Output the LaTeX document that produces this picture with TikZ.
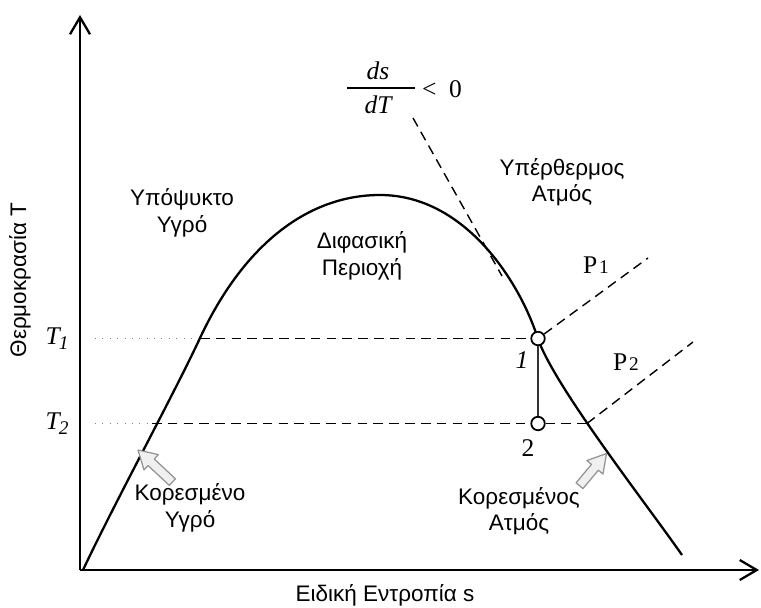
\documentclass[tikz,border=0pt]{standalone}
\usepackage{fontspec}
\setmainfont{Liberation Sans}
\newfontfamily\tms{Liberation Serif}
\usetikzlibrary{arrows.meta}

\tikzset{
  statept/.style={circle,draw,line width=1pt,fill=white,minimum size=0.27cm,inner sep=0pt},
  hollow/.style={draw=gray!85,fill=gray!12,line width=0.7pt,line join=round},
  isobar/.style={line width=0.8pt,dash pattern=on 5.5pt off 3.5pt},
  guide/.style={gray,line width=0.7pt,dash pattern=on 0.6pt off 3.6pt},
  axisline/.style={line width=1.3pt,-{Straight Barb[length=3.4mm,width=4mm]}},
  serifbig/.style={font=\fontsize{14.5}{17}\selectfont\tms},
}

\begin{document}
\begin{tikzpicture}[scale=1.0,font=\fontsize{12.8}{15}\selectfont]
\useasboundingbox (0,0) rectangle (15.22,12.14);

\coordinate (O) at (1.6,0.74);
\coordinate (xend) at (15.18,0.74);
\coordinate (yend) at (1.6,11.84);
\draw[axisline] (O) -- (yend);
\draw[axisline] (O) -- (xend);
\node (xlab) at (7.70,0.24) {Ειδική Εντροπία s};
\node[rotate=90] (ylab) at (0.40,6.54) {Θερμοκρασία T};

\draw[line width=1.3pt] (1.66,0.74) .. controls (2.3,2.1) and (3.5,4.3) .. (4.0,5.38)
  .. controls (4.9,7.3) and (6.2,8.24) .. (7.6,8.24)
  .. controls (9.3,8.24) and (10.4,6.5) .. (10.76,5.36)
  .. controls (11.1,4.4) and (12.9,2.1) .. (13.64,1.04);

\node[statept] (p1) at (10.76,5.37) {};
\node[statept] (p2) at (10.76,3.67) {};
\draw[line width=1pt,black!80] (p1) -- (p2);
\node[serifbig] (n1) at (10.44,4.94) {\itshape 1};
\node[serifbig] (n2) at (10.56,3.18) {2};

\node[serifbig] (T1) at (1.14,5.37) {\itshape T\kern-0.5pt\raisebox{-0.45ex}{\fontsize{11}{12}\selectfont 1}};
\node[serifbig] (T2) at (1.14,3.67) {\itshape T\kern-0.5pt\raisebox{-0.45ex}{\fontsize{11}{12}\selectfont 2}};
\coordinate (g1) at (1.9,5.37);
\coordinate (g2) at (1.9,3.67);
\coordinate (l1) at (4.00,5.37);
\coordinate (l2) at (3.04,3.67);
\coordinate (v2) at (11.74,3.67);
\draw[guide] (g1) -- (l1);
\draw[guide] (g2) -- (l2);
\draw[isobar] (l1) -- (p1);
\draw[isobar] (l2) -- (p2);
\draw[isobar] (p2) -- (v2);

\coordinate (e1) at (12.96,6.98);
\coordinate (e2) at (13.86,5.30);
\draw[isobar] (p1) -- (e1);
\draw[isobar] (v2) -- (e2);
\node[serifbig] (P1) at (11.92,6.84) {P\kern1pt{\fontsize{11}{12}\selectfont 1}};
\node[serifbig] (P2) at (12.52,4.90) {P\kern1pt{\fontsize{11}{12}\selectfont 2}};

\node[serifbig] (ds) at (7.56,10.72) {\itshape ds};
\node[serifbig] (dT) at (7.56,10.04) {\itshape dT};
\draw[line width=0.8pt] (6.94,10.38) -- (8.30,10.38);
\node[serifbig] (lt) at (8.84,10.36) {<\enspace 0};
\coordinate (d0) at (8.26,9.78);
\coordinate (d1) at (10.04,6.62);
\draw[isobar] (d0) -- (d1);

\node[align=center] (subc) at (3.64,7.88) {Υπόψυκτο\\Υγρό};
\node[align=center] (twoph) at (7.24,7.02) {Διφασική\\Περιοχή};
\node[align=center] (suph) at (11.24,8.50) {Υπέρθερμος\\Ατμός};
\node[align=center] (satl) at (3.80,1.98) {Κορεσμένο\\Υγρό};
\node[align=center] (satv) at (10.38,1.92) {Κορεσμένος\\Ατμός};

\begin{scope}[shift={(2.76,3.14)},rotate=137]
\draw[hollow] (0,0) -- (-0.36,0.21) -- (-0.36,0.09) -- (-0.94,0.09) -- (-0.94,-0.09) -- (-0.36,-0.09) -- (-0.36,-0.21) -- cycle;
\end{scope}
\begin{scope}[shift={(12.13,3.07)},rotate=50]
\draw[hollow] (0,0) -- (-0.36,0.21) -- (-0.36,0.09) -- (-0.84,0.09) -- (-0.84,-0.09) -- (-0.36,-0.09) -- (-0.36,-0.21) -- cycle;
\end{scope}
\end{tikzpicture}
\end{document}
